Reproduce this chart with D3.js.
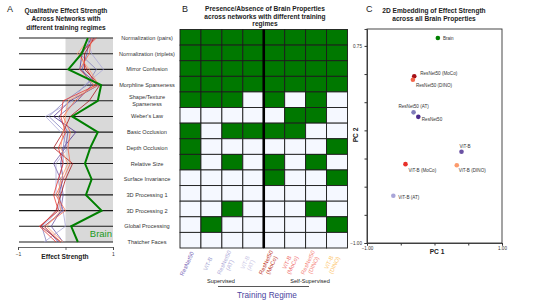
<!DOCTYPE html>
<html lang="en">
  <head>
    <meta charset="UTF-8" />
    <title>Brain Properties</title>
    <style>
      body { margin: 0; background: #fff; font-family: "Liberation Sans", Arial, sans-serif; }
      svg text { font-family: "Liberation Sans", Arial, sans-serif; }
    </style>
    <script src="https://d3js.org/d3.v7.min.js"></script>
  </head>
  <body>
  <script>
    // ---- data ----
    const properties = ["Normalization (pairs)", "Normalization (triplets)", "Mirror Confusion",
      "Morphline Sparseness", "Shape/Texture Sparseness", "Weber's Law", "Basic Occlusion",
      "Depth Occlusion", "Relative Size", "Surface Invariance", "3D Processing 1",
      "3D Processing 2", "Global Processing", "Thatcher Faces"]

    const networks = ["ResNet50", "ViT-B", "ResNet50 (AT)", "ViT-B (AT)",
      "ResNet50 (MoCo)", "ViT-B (MoCo)", "ResNet50 (DINO)", "ViT-B (DINO)"]

    const netColors = ["#4b2a8c", "#6a51a3", "#807dba", "#a9a5d8",
      "#a50f15", "#e8302a", "#f4654a", "#fc9a6c"]
    const labelColors = ["#7a68b8", "#a39fd0", "#b0acd9", "#cbc8e6",
      "#c0392b", "#f07070", "#f58a80", "#fdc76f"]

    // effect strength of the brain, one per property
    const brainEffect = [0.47, 0.34, 0.06, 0.75, 0.68, 0.14, 0.68, 0.52, 0.41, 0.55, 0.43, 0.76, 0.12, 0.26]

    // effect strength per network (same order as networks)
    const netEffect = [
      [0.55, 0.35, 0.30, 0.70, 0.10, -0.25, 0.22, -0.05, -0.10, -0.05, -0.15, -0.05, -0.45, -0.15],
      [0.50, 0.45, 0.35, 0.55, 0.25, -0.15, 0.05, 0.00, -0.25, -0.10, -0.05, -0.10, -0.30, -0.05],
      [0.60, 0.30, 0.65, 0.45, 0.00, -0.35, 0.00, -0.05, -0.05, -0.15, -0.10, -0.15, -0.50, -0.40],
      [0.45, 0.55, 0.80, 0.40, 0.15, -0.42, -0.10, 0.05, -0.20, -0.20, -0.20, -0.05, 0.00, -0.45],
      [0.60, 0.40, 0.40, 0.72, 0.50, 0.10, -0.05, -0.25, 0.15, 0.00, -0.10, -0.20, -0.52, -0.10],
      [0.65, 0.30, 0.45, 0.65, -0.05, -0.10, 0.00, -0.15, -0.05, -0.15, -0.25, -0.15, -0.55, -0.20],
      [0.55, 0.50, 0.30, 0.60, 0.20, -0.05, 0.10, 0.05, 0.10, -0.05, -0.20, 0.00, -0.45, -0.10],
      [0.50, 0.25, 0.50, 0.70, 0.05, 0.00, -0.05, -0.10, 0.05, -0.10, -0.15, -0.10, -0.40, -0.05]
    ]

    // presence (1) / absence (0): rows = properties, columns = networks
    const presence = [
      [1, 1, 1, 1, 1, 1, 1, 1],
      [1, 1, 1, 1, 1, 1, 1, 1],
      [1, 1, 1, 1, 1, 1, 1, 1],
      [1, 1, 1, 1, 1, 1, 1, 1],
      [1, 1, 1, 0, 1, 0, 1, 0],
      [0, 0, 0, 0, 0, 1, 1, 0],
      [1, 0, 1, 1, 1, 1, 0, 0],
      [1, 0, 0, 0, 0, 0, 0, 1],
      [1, 0, 1, 0, 1, 0, 1, 0],
      [0, 0, 0, 0, 1, 0, 0, 1],
      [0, 0, 0, 0, 0, 0, 0, 0],
      [0, 0, 1, 0, 0, 0, 1, 0],
      [0, 1, 0, 0, 0, 0, 0, 1],
      [0, 0, 0, 0, 0, 0, 0, 0]
    ]

    // 2D embedding (PC1, PC2)
    const embedNames = ["Brain", "ResNet50 (MoCo)", "ResNet50 (DINO)", "ResNet50 (AT)", "ResNet50",
      "ViT-B", "ViT-B (MoCo)", "ViT-B (DINO)", "ViT-B (AT)"]
    const pc1 = [0.05, -0.30, -0.32, -0.31, -0.24, 0.40, -0.43, 0.33, -0.61]
    const pc2 = [0.82, 0.48, 0.45, 0.16, 0.12, -0.19, -0.30, -0.31, -0.58]
    const embedColors = ["#008000", "#a50f15", "#f4654a", "#807dba", "#4b2a8c",
      "#6a51a3", "#e8302a", "#fc9a6c", "#a9a5d8"]

    const regimeLabels = ["Supervised", "Self-Supervised"]
    const ticksPC1 = [-1, -0.5, 0, 0.5, 1]
    const ticksPC2 = [-1, -0.75, -0.5, -0.25, 0, 0.25, 0.5, 0.75]

    // ---- drawing ----
    const W = 538, H = 302
    const svg = d3.select("body").append("svg")
        .attr("width", W).attr("height", H)

    function title(x, lines, y0, step) {
      const t = svg.append("text")
          .attr("x", x).attr("y", y0)
          .attr("text-anchor", "middle")
          .attr("font-size", 6.6).attr("font-weight", "bold").attr("fill", "#222")
      lines.forEach((l, i) => t.append("tspan").attr("x", x).attr("dy", i ? step : 0).text(l))
    }
    function letter(x, y, s) {
      svg.append("text").attr("x", x).attr("y", y).attr("font-size", 9).attr("fill", "#222").text(s)
    }

    // ---------- Panel A ----------
    letter(7, 12, "A")
    title(66, ["Qualitative Effect Strength", "Across Networks with", "different training regimes"], 13, 8.3)

    const xA = d3.scaleLinear().domain([-1, 1]).range([18, 113])
    const yA = d3.scalePoint().domain(properties).range([38, 242])

    svg.append("rect")
        .attr("x", xA(0)).attr("y", yA(properties[0]))
        .attr("width", xA(1) - xA(0))
        .attr("height", yA(properties[properties.length - 1]) - yA(properties[0]))
        .attr("fill", "#d9d9d9")

    svg.append("g").selectAll("line")
      .data(properties)
      .enter().append("line")
        .attr("x1", 19).attr("x2", xA(1))
        .attr("y1", d => yA(d)).attr("y2", d => yA(d))
        .attr("stroke", "#1a1a1a").attr("stroke-width", 1.1)

    const lineA = d3.line()
        .x(d => xA(d[1]))
        .y(d => yA(d[0]))

    svg.append("g").selectAll("path")
      .data(netEffect)
      .enter().append("path")
        .attr("d", d => lineA(properties.map((p, i) => [p, d[i]])))
        .attr("fill", "none")
        .attr("stroke", (d, i) => netColors[i])
        .attr("stroke-width", 0.9)
        .attr("stroke-opacity", 0.85)

    svg.append("path")
        .attr("d", lineA(properties.map((p, i) => [p, brainEffect[i]])))
        .attr("fill", "none")
        .attr("stroke", "#008000")
        .attr("stroke-width", 2)

    svg.append("text")
        .attr("x", 112).attr("y", 237)
        .attr("text-anchor", "end")
        .attr("font-size", 9.5).attr("fill", "#1a9a1a")
        .text("Brain")

    const axA = svg.append("g")
        .attr("transform", "translate(0,247)")
        .call(d3.axisBottom(xA).tickValues([-1, 0, 1]).tickSize(3)
          .tickFormat(d => d === 0 ? "" : d3.format("d")(d)))
    axA.select(".domain").attr("stroke", "#444").attr("stroke-width", 0.8)
    axA.selectAll("line").attr("stroke", "#444").attr("stroke-width", 0.8)
    axA.selectAll("text").attr("font-size", 5).attr("fill", "#333").attr("dy", "0.5em")

    svg.append("text")
        .attr("x", 65).attr("y", 259)
        .attr("text-anchor", "middle")
        .attr("font-size", 6.6).attr("font-weight", "bold").attr("fill", "#222")
        .text("Effect Strength")

    // row labels
    const rowLab = svg.append("g").selectAll("text")
      .data(properties)
      .enter().append("text")
        .attr("x", 147)
        .attr("y", d => yA(d))
        .attr("text-anchor", "middle")
        .attr("font-size", 5.6).attr("fill", "#333")
    rowLab.each(function(d) {
      const parts = d === "Shape/Texture Sparseness" ? ["Shape/Texture", "Sparseness"] : [d]
      const t = d3.select(this)
      parts.forEach((p, i) => t.append("tspan")
        .attr("x", 147)
        .attr("dy", parts.length > 1 ? (i ? 7.6 : -2.2) : 2)
        .text(p))
    })

    // ---------- Panel B ----------
    letter(182, 12, "B")
    title(265, ["Presence/Absence of Brain Properties", "across networks with different training", "regimes"], 11, 7.7)

    const xB = d3.scaleBand().domain(networks).range([180, 347.5])
    const yB = d3.scaleBand().domain(properties).range([29.5, 248])

    const cells = []
    presence.forEach((row, i) => row.forEach((v, j) => cells.push({ p: properties[i], n: networks[j], v })))

    svg.append("g").selectAll("rect")
      .data(cells)
      .enter().append("rect")
        .attr("x", d => xB(d.n)).attr("y", d => yB(d.p))
        .attr("width", xB.bandwidth()).attr("height", yB.bandwidth())
        .attr("fill", d => d.v ? "#007800" : "#f5f8ff")
        .attr("stroke", "#1c1c1c").attr("stroke-width", 0.9)

    svg.append("line")
        .attr("x1", xB(networks[4])).attr("x2", xB(networks[4]))
        .attr("y1", 29.5).attr("y2", 248)
        .attr("stroke", "#000").attr("stroke-width", 2.6)

    // column labels
    networks.forEach((n, i) => {
      const m = n.match(/^(\S+) (\(.*\))$/)
      const parts = m ? [m[1], m[2]] : [n]
      const g = svg.append("g")
          .attr("transform", `translate(${xB(n) + xB.bandwidth() / 2 + (parts.length > 1 ? 0 : 2)},252) rotate(-65)`)
      parts.forEach((p, k) => g.append("text")
          .attr("x", -13).attr("y", k * 6.2 + (parts.length > 1 ? -1 : 2))
          .attr("text-anchor", "middle")
          .attr("font-size", 5.8)
          .attr("fill", labelColors[i])
          .text(p))
    })

    svg.append("text").attr("x", 221).attr("y", 283)
        .attr("text-anchor", "middle").attr("font-size", 5.6).attr("fill", "#222")
        .text(regimeLabels[0])
    svg.append("text").attr("x", 310).attr("y", 283)
        .attr("text-anchor", "middle").attr("font-size", 5.6).attr("fill", "#222")
        .text(regimeLabels[1])
    svg.append("line")
        .attr("x1", 218).attr("x2", 309).attr("y1", 286.5).attr("y2", 286.5)
        .attr("stroke", "#444").attr("stroke-width", 0.9)
    svg.append("text").attr("x", 267).attr("y", 298)
        .attr("text-anchor", "middle").attr("font-size", 8.2).attr("fill", "#4b45a0")
        .text("Training Regime")

    // ---------- Panel C ----------
    letter(366, 12, "C")
    title(434, ["2D Embedding of Effect Strength", "across all Brain Properties"], 13, 8.3)

    const xC = d3.scaleLinear().domain([-1, 1]).range([367, 502])
    const yC = d3.scaleLinear().domain([-1, 0.9]).range([243, 29])

    svg.append("rect")
        .attr("x", xC(-1)).attr("y", yC(0.9))
        .attr("width", xC(1) - xC(-1)).attr("height", yC(-1) - yC(0.9))
        .attr("fill", "none").attr("stroke", "#333").attr("stroke-width", 0.9)

    const axX = svg.append("g")
        .attr("transform", `translate(0,${yC(-1)})`)
        .call(d3.axisBottom(xC).tickValues(ticksPC1).tickSize(2.5)
          .tickFormat(d => (d === -1 || d === 1) ? d3.format(".2f")(d) : ""))
    const axY = svg.append("g")
        .attr("transform", `translate(${xC(-1)},0)`)
        .call(d3.axisLeft(yC).tickValues(ticksPC2).tickSize(2.5)
          .tickFormat(d => (d === -1 || d === 0.75) ? d3.format(".2f")(d) : ""))
    ;[axX, axY].forEach(a => {
      a.select(".domain").attr("stroke", "#333").attr("stroke-width", 0.9)
      a.selectAll("line").attr("stroke", "#333")
      a.selectAll("text").attr("font-size", 4.6).attr("fill", "#333")
    })
    axX.selectAll("text").attr("dy", "0.4em")
    axY.selectAll("text").attr("dx", "0.1em")

    svg.append("text").attr("x", 437).attr("y", 254)
        .attr("text-anchor", "middle").attr("font-size", 6.6).attr("font-weight", "bold").attr("fill", "#222")
        .text("PC 1")
    svg.append("text")
        .attr("transform", "translate(358,135) rotate(-90)")
        .attr("text-anchor", "middle").attr("font-size", 6.6).attr("font-weight", "bold").attr("fill", "#222")
        .text("PC 2")

    const pts = embedNames.map((n, i) => ({ n, x: pc1[i], y: pc2[i], c: embedColors[i] }))
    // label placement relative to each point: [dx, dy, anchor]
    const labelPos = {
      "Brain": [5, 2, "start"],
      "ResNet50 (MoCo)": [6, -1.5, "start"],
      "ResNet50 (DINO)": [3, 7.5, "start"],
      "ResNet50 (AT)": [0, -4.5, "middle"],
      "ResNet50": [3.5, 4.5, "start"],
      "ViT-B": [-2, -3.5, "start"],
      "ViT-B (MoCo)": [3, 8, "start"],
      "ViT-B (DINO)": [2, 7, "start"],
      "ViT-B (AT)": [5, 3, "start"]
    }

    svg.append("g").selectAll("circle")
      .data(pts)
      .enter().append("circle")
        .attr("cx", d => xC(d.x)).attr("cy", d => yC(d.y))
        .attr("r", 2.3)
        .attr("fill", d => d.c)

    svg.append("g").selectAll("text")
      .data(pts)
      .enter().append("text")
        .attr("x", d => xC(d.x) + labelPos[d.n][0])
        .attr("y", d => yC(d.y) + labelPos[d.n][1])
        .attr("text-anchor", d => labelPos[d.n][2])
        .attr("font-size", 4.6).attr("fill", "#333")
        .text(d => d.n)
  </script>
  </body>
</html>
